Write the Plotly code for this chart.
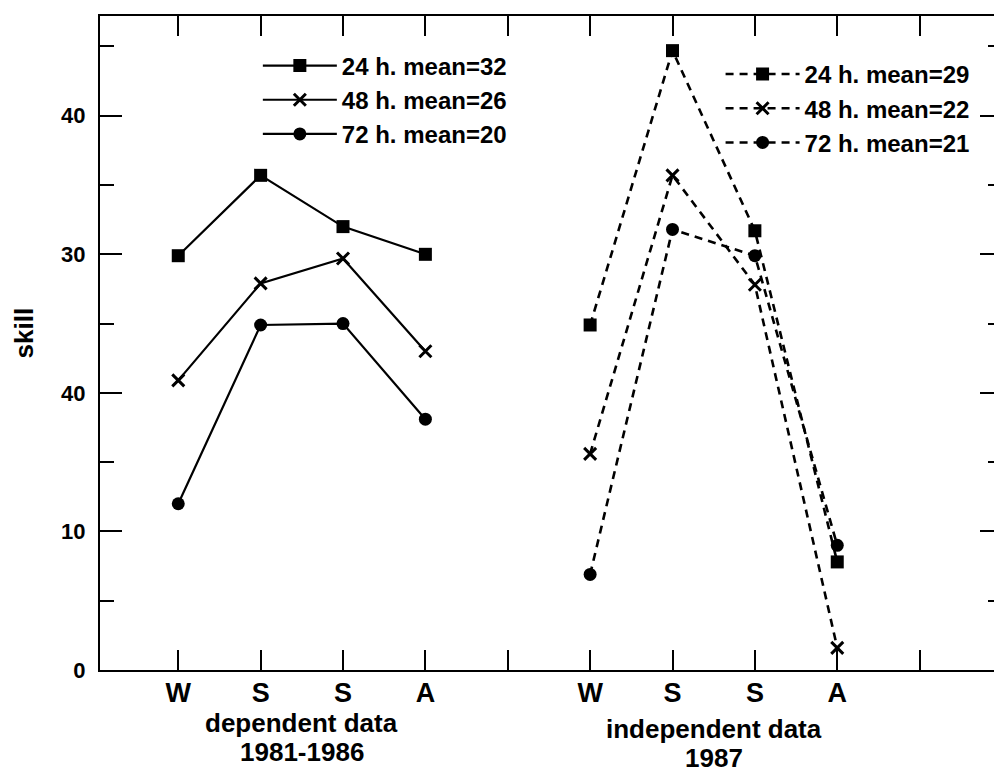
import plotly.graph_objects as go

# ---- data ----
seasons = ["W", "S", "S", "A"]

dep_24h = [29.9, 35.7, 32.0, 30.0]
dep_48h = [20.9, 27.9, 29.7, 23.0]
dep_72h = [12.0, 24.9, 25.0, 18.1]

ind_24h = [24.9, 44.7, 31.7, 7.8]
ind_48h = [15.6, 35.7, 27.8, 1.6]
ind_72h = [6.9, 31.8, 29.9, 9.0]

dep_names = ["24 h. mean=32", "48 h. mean=26", "72 h. mean=20"]
ind_names = ["24 h. mean=29", "48 h. mean=22", "72 h. mean=21"]

y_tickvals = [0, 10, 20, 30, 40]
y_ticktext = ["0", "10", "40", "30", "40"]
y_minor = [5, 15, 25, 35, 45]

group_labels = ["dependent data", "1981-1986", "independent data", "1987"]

# category slots along the x axis (group 1: slots 1-4, gap slot 5, group 2: slots 6-9, slot 10 empty)
dep_x = list(range(1, len(seasons) + 1))
ind_x = [v + len(seasons) + 1 for v in dep_x]
all_tickvals = list(range(1, 2 * len(seasons) + 3))
all_ticktext = seasons + [""] + seasons + [""]

FONT = "Liberation Sans, Arial, Helvetica, sans-serif"

fig = go.Figure()

symbols = [
    dict(symbol="square", size=13, color="black"),
    dict(symbol="x-thin-open", size=12, color="black", line=dict(width=3, color="black")),
    dict(symbol="circle", size=13, color="black"),
]

for vals, name, sym in zip([dep_24h, dep_48h, dep_72h], dep_names, symbols):
    fig.add_trace(go.Scatter(
        x=dep_x, y=vals, name=name, mode="lines+markers",
        line=dict(color="black", width=2.2),
        marker=sym, legend="legend",
    ))

for vals, name, sym in zip([ind_24h, ind_48h, ind_72h], ind_names, symbols):
    fig.add_trace(go.Scatter(
        x=ind_x, y=vals, name=name, mode="lines+markers",
        line=dict(color="black", width=2.6, dash="8px,6px"),
        marker=sym, legend="legend2",
    ))

legend_common = dict(
    font=dict(family=FONT, size=24, color="black", weight="bold"),
    bgcolor="rgba(0,0,0,0)", borderwidth=0, itemwidth=74,
    xanchor="left", yanchor="top", tracegroupgap=0,
)

# the page body adds an 8px offset; margins compensate so the plot area sits at
# screen x 100..1002, y 14..670
fig.update_layout(
    width=1002, height=776,
    margin=dict(l=92, r=8, t=6, b=114),
    paper_bgcolor="white", plot_bgcolor="white",
    font=dict(family=FONT, color="black"),
    showlegend=True,
    legend=dict(x=0.175, y=0.958, **legend_common),
    legend2=dict(x=0.688, y=0.945, **legend_common),
    xaxis=dict(
        range=[0.05, 11.0], tickmode="array", tickvals=all_tickvals, ticktext=all_ticktext,
        ticks="inside", ticklen=20, tickwidth=2, tickcolor="black",
        showline=True, linewidth=2, linecolor="black", mirror="allticks",
        showgrid=False, zeroline=False, ticklabelstandoff=-2,
        tickfont=dict(family=FONT, size=27, color="black", weight="bold"),
    ),
    yaxis=dict(
        range=[0, 47.2], tickmode="array", tickvals=y_tickvals, ticktext=y_ticktext,
        ticks="inside", ticklen=22, tickwidth=2, tickcolor="black",
        minor=dict(tickmode="array", tickvals=y_minor, ticks="inside", ticklen=14,
                   tickwidth=2, tickcolor="black", showgrid=False),
        showline=True, linewidth=2, linecolor="black", mirror="allticks",
        showgrid=False, zeroline=False, ticklabelstandoff=8,
        tickfont=dict(family=FONT, size=22, color="black", weight="bold"),
    ),
)

fig.add_annotation(text="skill", xref="paper", yref="paper", x=-0.084, y=0.515,
                   xanchor="center", yanchor="middle",
                   textangle=-90, showarrow=False,
                   font=dict(family=FONT, size=26, color="black", weight="bold"))

dep_center = (dep_x[0] + dep_x[-1]) / 2
ind_center = (ind_x[0] + ind_x[-1]) / 2
for text, xc, ypx in zip(group_labels, [dep_center, dep_center, ind_center, ind_center],
                         [723, 752, 729, 758]):
    fig.add_annotation(text=text, xref="x", yref="paper", x=xc,
                       y=(670 - ypx) / 656, yanchor="middle", showarrow=False,
                       font=dict(family=FONT, size=26, color="black", weight="bold"))

fig.write_html("out.html")
